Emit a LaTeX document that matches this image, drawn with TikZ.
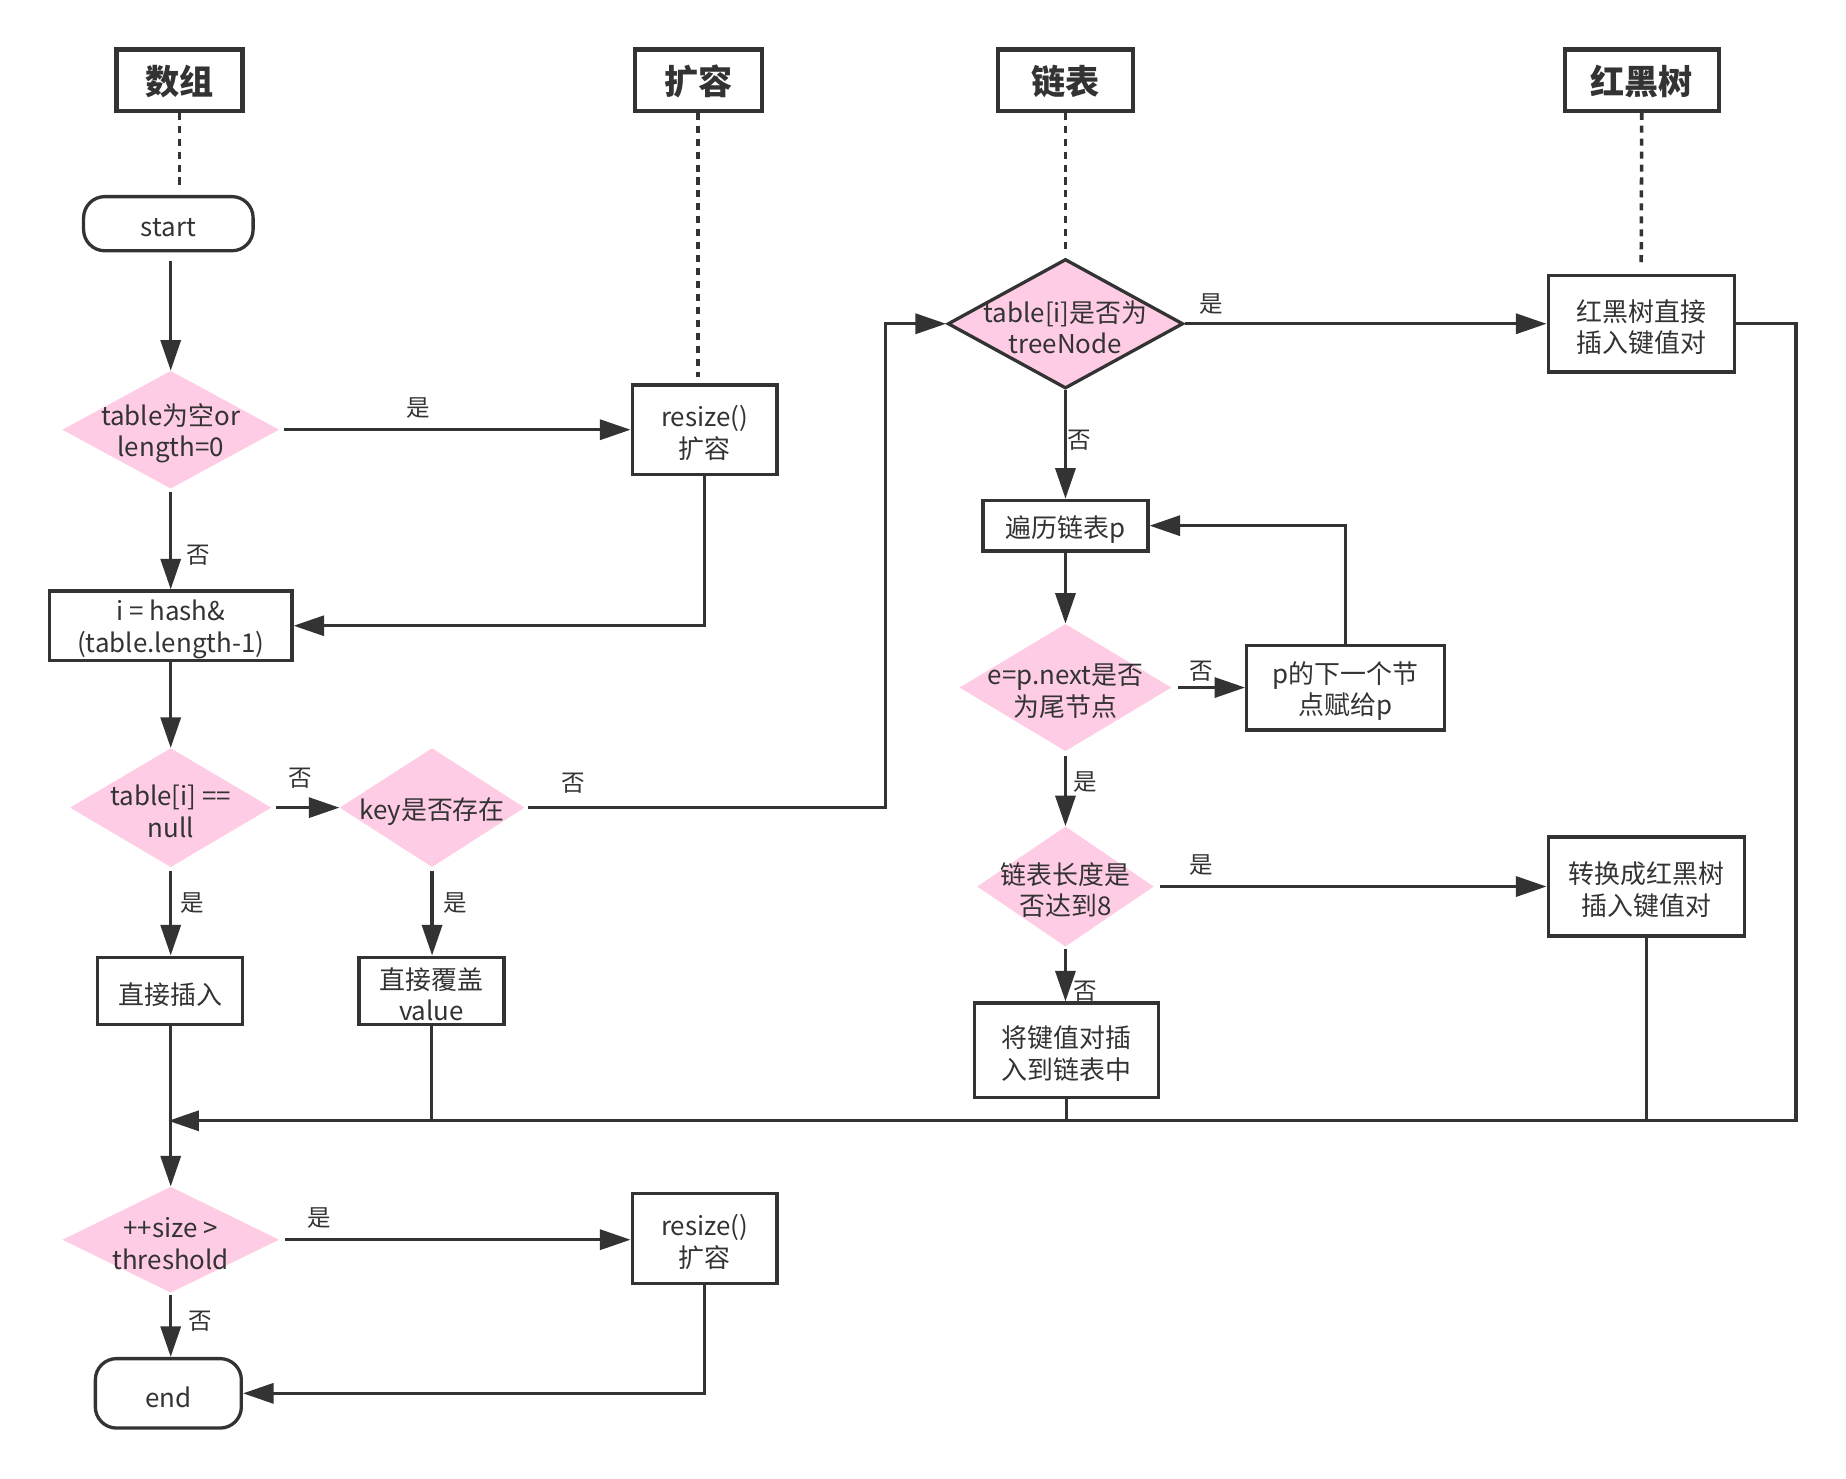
\documentclass[tikz,border=0pt]{standalone}
\usepackage{fontspec}
\newfontfamily\cjk{Noto Sans CJK SC}
\usetikzlibrary{arrows.meta,shapes.geometric,calc}
\definecolor{ink}{HTML}{333333}
\definecolor{pinkfill}{HTML}{FFCCE6}
\begin{document}
\begin{tikzpicture}[x=1pt,y=-1pt,
  font=\cjk\fontsize{22}{27}\selectfont, text=ink,
  hdr/.style={draw=ink, line width=3.5pt, fill=white, inner sep=0pt, text depth=-4pt,
    font=\cjk\bfseries\fontsize{29}{34}\selectfont},
  proc/.style={draw=ink, line width=2.8pt, fill=white, inner sep=0pt, align=center},
  term/.style={proc, rounded corners=18pt},
  dia/.style={shape=diamond, fill=pinkfill, draw=none, inner sep=0pt},
  dtxt/.style={inner sep=0pt, align=center, yshift=-3pt},
  lbl/.style={inner sep=0pt, font=\cjk\fontsize{20}{24}\selectfont},
  line/.style={draw=ink, line width=2.8pt},
  arr/.style={line, -{Triangle[length=26pt,width=17pt]}},
  dotl/.style={draw=ink, line width=3pt, dash pattern=on 6pt off 5pt}
]
\useasboundingbox[fill=white] (0,0) rectangle (1568,1256);

% headers
\node[hdr, minimum width=107, minimum height=52] (h1) at (152.5,68) {数组};
\node[hdr, minimum width=108, minimum height=52] (h2) at (593,68) {扩容};
\node[hdr, minimum width=114, minimum height=52] (h3) at (905,68) {链表};
\node[hdr, minimum width=131, minimum height=52] (h4) at (1394.5,68) {红黑树};

% left column
\node[term, minimum width=144, minimum height=46] (start) at (143,190) {};
\node[dtxt] (startt) at (start.center) {start};
\node[dia, minimum width=184, minimum height=100] (d1) at (145,365) {};
\node[dtxt] (d1t) at (d1.center) {table为空or\\length=0};
\node[proc, minimum width=123, minimum height=76] (rs1) at (598.5,365) {};
\node[dtxt] (rs1t) at (rs1.center) {resize()\\扩容};
\node[proc, minimum width=206, minimum height=59] (hash) at (145,531.5) {};
\node[dtxt] (hasht) at (hash.center) {i = hash\&\\(table.length-1)};
\node[dia, minimum width=171, minimum height=101] (d2) at (145,686) {};
\node[dtxt] (d2t) at (d2.center) {table[i] ==\\null};
\node[dia, minimum width=157, minimum height=101] (d3) at (367,686) {};
\node[dtxt] (d3t) at (d3.center) {key是否存在};
\node[proc, minimum width=123, minimum height=57] (direct) at (144.5,841.5) {};
\node[dtxt] (directt) at (direct.center) {直接插入};
\node[proc, minimum width=123, minimum height=57] (cover) at (366.5,841.5) {};
\node[dtxt] (covert) at (cover.center) {直接覆盖\\value};
\node[dia, minimum width=184, minimum height=90] (d7) at (145,1053) {};
\node[dtxt] (d7t) at (d7.center) {++size >\\threshold};
\node[proc, minimum width=123, minimum height=76] (rs2) at (598.5,1052) {};
\node[dtxt] (rs2t) at (rs2.center) {resize()\\扩容};
\node[term, minimum width=124, minimum height=59] (end) at (143,1183.5) {};
\node[dtxt] (endt) at (end.center) {end};

% right part
\node[dia, draw=ink, line width=2.8pt, minimum width=200, minimum height=110] (d4) at (905,275) {};
\node[dtxt] (d4t) at (d4.center) {table[i]是否为\\treeNode};
\node[proc, minimum width=158, minimum height=82] (rbt) at (1394,275) {};
\node[dtxt] (rbtt) at (rbt.center) {红黑树直接\\插入键值对};
\node[proc, minimum width=140, minimum height=43] (trav) at (905,446.5) {};
\node[dtxt] (travt) at (trav.center) {遍历链表p};
\node[dia, minimum width=180, minimum height=108] (d5) at (905,584) {};
\node[dtxt] (d5t) at (d5.center) {e=p.next是否\\为尾节点};
\node[proc, minimum width=168, minimum height=72] (pnext) at (1143,584) {};
\node[dtxt] (pnextt) at (pnext.center) {p的下一个节\\点赋给p};
\node[dia, minimum width=150, minimum height=102] (d6) at (905,753) {};
\node[dtxt] (d6t) at (d6.center) {链表长度是\\否达到8};
\node[proc, minimum width=167, minimum height=84] (conv) at (1398.5,753) {};
\node[dtxt] (convt) at (conv.center) {转换成红黑树\\插入键值对};
\node[proc, minimum width=156, minimum height=80] (ins) at (906,892) {};
\node[dtxt] (inst) at (ins.center) {将键值对插\\入到链表中};

\coordinate (merge) at (143,952);

% dotted lines
\draw[dotl, shorten >=7pt] (h1.south) -- (h1.south |- start.north);
\draw[dotl, shorten >=5pt] (h2.south) -- (h2.south |- rs1.north);
\draw[dotl, shorten >=5pt] (h3.south) -- (d4.north);
\draw[dotl, shorten >=6pt] (h4.south) -- (rbt.north);

% connectors
\draw[arr, shorten <=7pt] (d1.north |- start.south) -- (d1.north);
\draw[arr, shorten <=4pt] (d1.east) -- (rs1.west);
\draw[arr] (rs1.south) |- (hash.east);
\draw[arr, shorten <=3pt] (d1.south) -- (hash.north);
\draw[arr] (hash.south) -- (d2.north);
\draw[arr, shorten <=4pt] (d2.east) -- (d3.west);
\draw[arr, shorten <=3pt] (d3.east) -- ++(306.5,0) |- (d4.west);
\draw[arr, shorten <=3pt] (d2.south) -- (d2.south |- direct.north);
\draw[arr, shorten <=3pt] (d3.south) -- (d3.south |- cover.north);
\draw[arr] (d4.east) -- (rbt.west);
\draw[arr] (d4.south) -- (trav.north);
\draw[arr] (trav.south) -- (d5.north);
\draw[arr, shorten <=5pt] (d5.east) -- (pnext.west);
\draw[arr] (pnext.north) |- (trav.east);
\draw[arr, shorten <=4pt] (d5.south) -- (d6.north);
\draw[arr, shorten <=5pt] (d6.east) -- (conv.west);
\draw[arr, shorten <=2pt] (d6.south) -- (d6.south |- ins.north);
\draw[arr] (rbt.east) -- ++(51,0) |- (merge);
\draw[line] (conv.south) -- (conv.south |- merge);
\draw[line] (ins.south) -- (ins.south |- merge);
\draw[line] (cover.south) -- (cover.south |- merge);
\draw[arr] (d7.north |- direct.south) -- (d7.north);
\draw[arr, shorten <=5pt] (d7.east) -- (d7.east -| rs2.west);
\draw[arr] (rs2.south) |- (end.east);
\draw[arr, shorten <=2pt] (d7.south) -- (d7.south |- end.north);

% labels
\node[lbl] (l1) at (355,347) {是};
\node[lbl] (l2) at (168,472) {否};
\node[lbl] (l3) at (255,661) {否};
\node[lbl] (l4) at (487,665) {否};
\node[lbl] (l5) at (163,767) {是};
\node[lbl] (l6) at (387,767) {是};
\node[lbl] (l7) at (1029,258) {是};
\node[lbl] (l8) at (917,374) {否};
\node[lbl] (l9) at (1020,570) {否};
\node[lbl] (l10) at (922,664) {是};
\node[lbl] (l11) at (1020,735) {是};
\node[lbl] (l12) at (922,842) {否};
\node[lbl] (l13) at (271,1035) {是};
\node[lbl] (l14) at (170,1122) {否};
\end{tikzpicture}
\end{document}
